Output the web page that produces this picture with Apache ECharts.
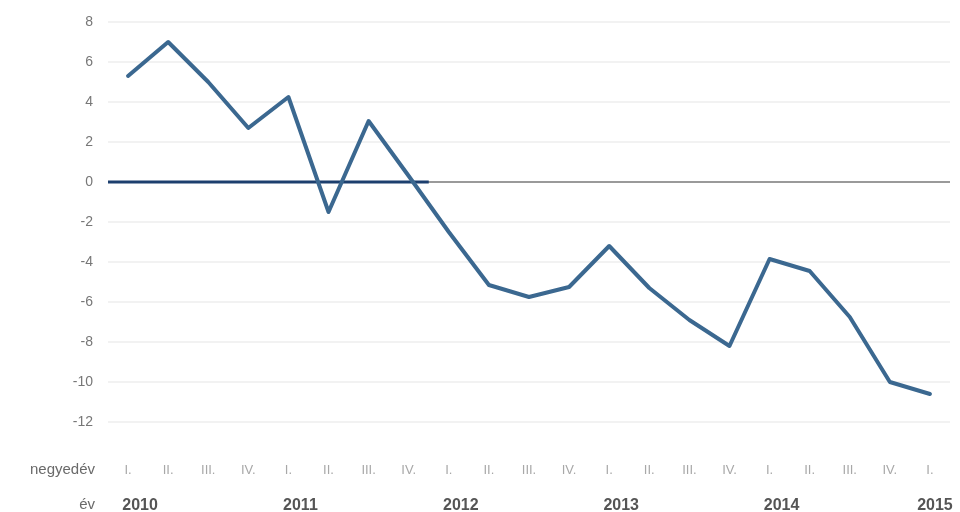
<!DOCTYPE html>
<html>
<head>
<meta charset="utf-8">
<script src="https://cdn.jsdelivr.net/npm/echarts@6/dist/echarts.min.js"></script>
<style>
  html, body { margin: 0; padding: 0; background: #fff; }
  #chart { width: 960px; height: 512px; }
</style>
</head>
<body>
<div id="chart"></div>
<script>
// Quarterly labels (negyedév) and year labels (év)
const quarters = ['I.', 'II.', 'III.', 'IV.', 'I.', 'II.', 'III.', 'IV.', 'I.', 'II.', 'III.', 'IV.',
                  'I.', 'II.', 'III.', 'IV.', 'I.', 'II.', 'III.', 'IV.', 'I.'];
const years = ['2010', '', '', '', '2011', '', '', '', '2012', '', '', '',
               '2013', '', '', '', '2014', '', '', '', '2015'];
// Series values
const values = [5.3, 7.0, 5.0, 2.7, 4.25, -1.5, 3.05, 0.3, -2.5, -5.15, -5.75, -5.25,
                -3.2, -5.3, -6.9, -8.2, -3.85, -4.45, -6.75, -10.0, -10.6];
// Zero reference line: full width, and the highlighted 2010–2011 stretch
const zeroFull = [[0, 0], [21, 0]];
const zeroHighlight = [[0, 0], [8, 0]];

const FONT = '"Liberation Sans Narrow", "Liberation Sans", Arial, sans-serif';

// The last year label sits a little closer to its tick so it stays inside the canvas
const yearData = years.map((y, i) =>
  i === years.length - 1 ? { value: y, textStyle: { padding: [0, 0, 0, 10] } } : y
);

const chart = echarts.init(document.getElementById('chart'), null, { renderer: 'canvas' });
chart.setOption({
  animation: false,
  backgroundColor: '#ffffff',
  grid: { left: 108, right: 10, top: 22, bottom: 90, containLabel: false, outerBoundsMode: 'none' },
  xAxis: [
    {
      type: 'category',
      data: quarters,
      position: 'bottom',
      boundaryGap: true,
      axisLine: { show: false, onZero: false },
      axisTick: { show: false },
      axisLabel: { color: '#a8a8a8', fontFamily: FONT, fontSize: 13, margin: 42, interval: 0 },
      name: 'negyedév',
      nameLocation: 'start',
      nameGap: 13,
      nameTextStyle: { color: '#6a6a6a', fontFamily: FONT, fontSize: 15, align: 'right', verticalAlign: 'top', padding: [40, 0, 0, 0] }
    },
    {
      type: 'category',
      data: yearData,
      position: 'bottom',
      offset: 35,
      boundaryGap: true,
      axisLine: { show: false, onZero: false },
      axisTick: { show: false },
      axisLabel: { color: '#555555', fontFamily: FONT, fontSize: 16, fontWeight: 'bold', margin: 41, interval: 0, padding: [0, 0, 0, 24] },
      name: 'év',
      nameLocation: 'start',
      nameGap: 13,
      nameTextStyle: { color: '#6a6a6a', fontFamily: FONT, fontSize: 15, align: 'right', verticalAlign: 'top', padding: [40, 0, 0, 0] }
    },
    {
      type: 'value',
      min: 0,
      max: 21,
      show: false
    }
  ],
  yAxis: {
    type: 'value',
    min: -12,
    max: 8,
    interval: 2,
    axisLine: { show: false },
    axisTick: { show: false },
    axisLabel: { color: '#777777', fontFamily: FONT, fontSize: 14, margin: 15 },
    splitLine: { show: true, lineStyle: { color: '#f2f2f2', width: 2 } }
  },
  series: [
    {
      type: 'line',
      xAxisIndex: 2,
      data: zeroFull,
      symbol: 'none',
      silent: true,
      lineStyle: { color: '#9a9a9a', width: 2 },
      z: 1
    },
    {
      type: 'line',
      xAxisIndex: 2,
      data: zeroHighlight,
      symbol: 'none',
      silent: true,
      lineStyle: { color: '#1c3f6e', width: 3 },
      z: 2
    },
    {
      type: 'line',
      xAxisIndex: 0,
      data: values,
      symbol: 'none',
      lineStyle: { color: '#3b6890', width: 4, join: 'round', cap: 'round' },
      z: 3
    }
  ]
});
</script>
</body>
</html>
